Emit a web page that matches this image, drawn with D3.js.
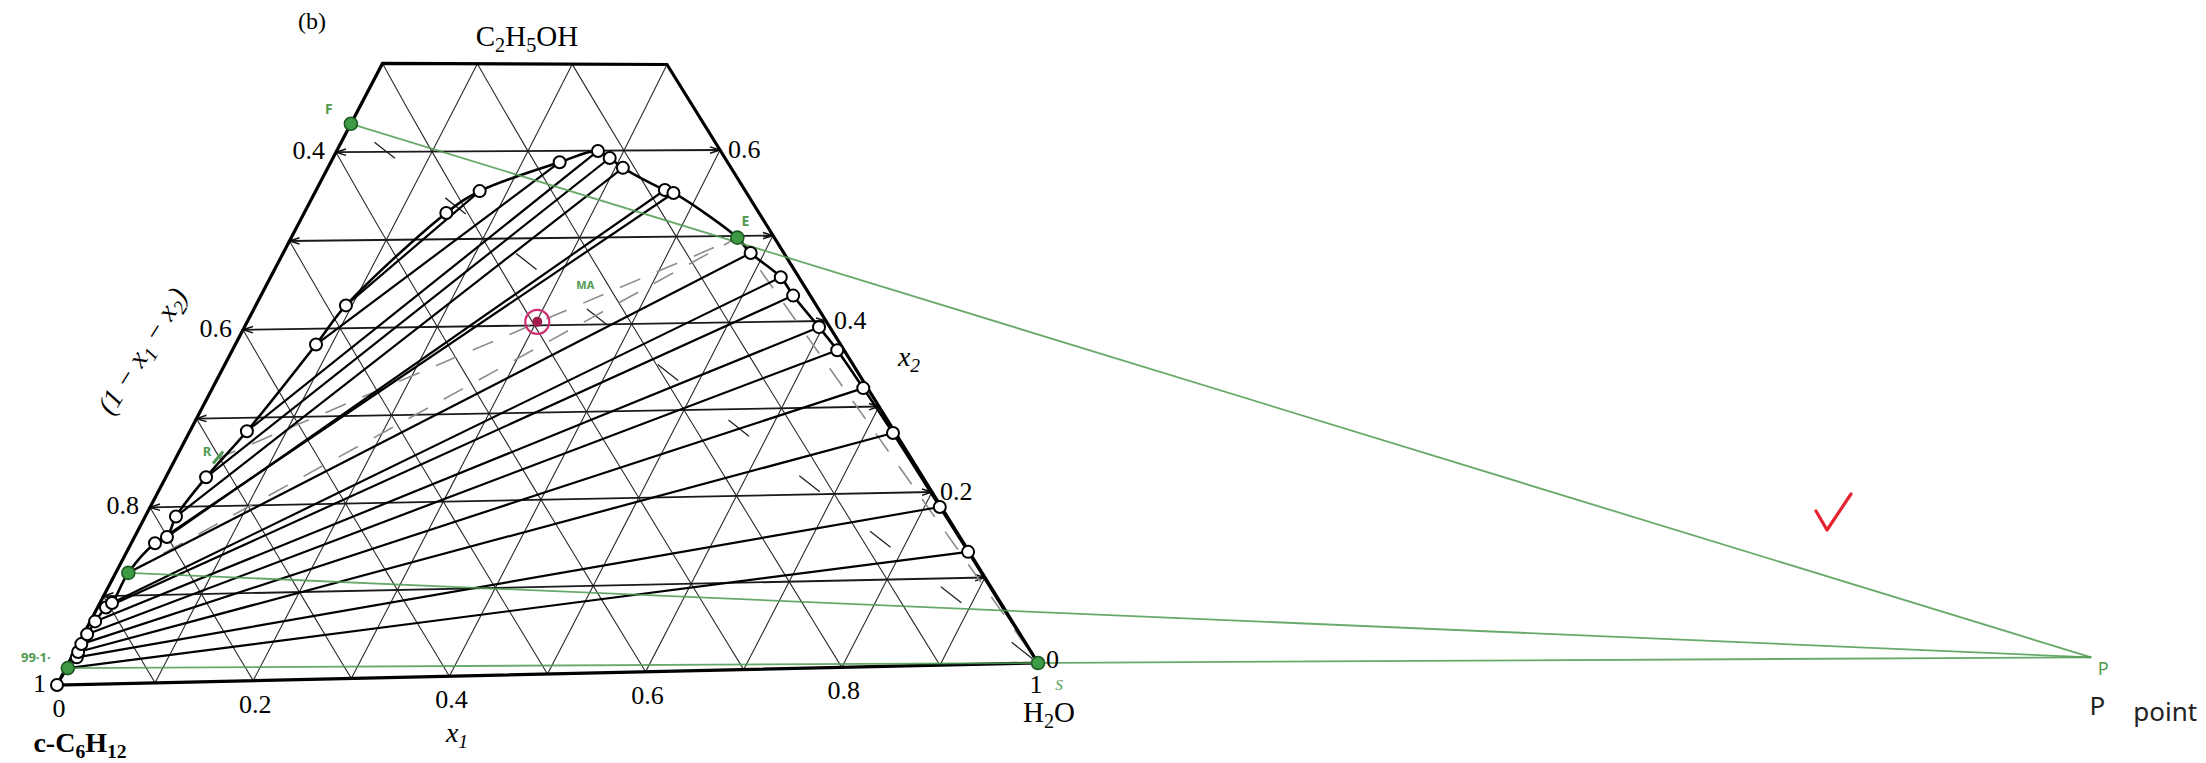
<!DOCTYPE html>
<html>
<head>
<meta charset="utf-8">
<script src="https://cdn.jsdelivr.net/npm/d3@7"></script>
<style>
  html, body { margin: 0; padding: 0; background: #ffffff; }
  svg { display: block; }
</style>
</head>
<body>
<svg id="chart" width="2206" height="763"></svg>
<script>
// ---- Composition data: [x1 (water), x2 (ethanol)], cyclohexane = 1 - x1 - x2 ----

// Binodal (solubility) curve, traced from pure cyclohexane round to pure water
const binodalCurve = [
  [0.000, 0.000], [0.002, 0.019], [0.0055, 0.031], [0.004, 0.037], [0.003, 0.046],
  [0.0037, 0.057], [0.005, 0.0715], [0.0087, 0.087], [0.0125, 0.092], [0.013, 0.126],
  [0.0246, 0.159], [0.0335, 0.166], [0.0318, 0.189], [0.0417, 0.233], [0.059, 0.2846],
  [0.0837, 0.382], [0.0936, 0.426], [0.148, 0.530], [0.171, 0.5546], [0.239, 0.587],
  [0.273, 0.5997], [0.289, 0.5915], [0.308, 0.580], [0.3635, 0.554], [0.374, 0.5505],
  [0.464, 0.498], [0.486, 0.480], [0.530, 0.4515], [0.5525, 0.430], [0.596, 0.393],
  [0.627, 0.366], [0.674, 0.3216], [0.7285, 0.269], [0.816, 0.1825], [0.869, 0.130],
  [0.934, 0.065], [1.000, 0.000]
];

// Measured equilibrium compositions (open circles)
const measuredPoints = [
  [0.000, 0.000], [0.0055, 0.031], [0.004, 0.037], [0.003, 0.046], [0.0037, 0.057],
  [0.005, 0.0715], [0.0087, 0.087], [0.0125, 0.092], [0.0246, 0.159], [0.0335, 0.166],
  [0.0318, 0.189], [0.0417, 0.233], [0.059, 0.2846], [0.0837, 0.382], [0.0936, 0.426],
  [0.148, 0.530], [0.171, 0.5546], [0.239, 0.587], [0.273, 0.5997], [0.289, 0.5915],
  [0.308, 0.580], [0.3635, 0.554], [0.374, 0.5505], [0.486, 0.480], [0.530, 0.4515],
  [0.5525, 0.430], [0.596, 0.393], [0.627, 0.366], [0.674, 0.3216], [0.7285, 0.269],
  [0.816, 0.1825], [0.869, 0.130]
];

// Tie lines: [cyclohexane-rich phase, water-rich phase]
const tieLines = [
  [[0.002, 0.019], [0.869, 0.130]],
  [[0.0055, 0.031], [0.816, 0.1825]],
  [[0.004, 0.037], [0.7285, 0.269]],
  [[0.003, 0.046], [0.674, 0.3216]],
  [[0.0037, 0.057], [0.627, 0.366]],
  [[0.005, 0.0715], [0.596, 0.393]],
  [[0.0087, 0.087], [0.5525, 0.430]],
  [[0.0125, 0.092], [0.530, 0.4515]],
  [[0.013, 0.126], [0.486, 0.480]],
  [[0.0246, 0.159], [0.374, 0.5505]],
  [[0.0335, 0.166], [0.3635, 0.554]],
  [[0.0318, 0.189], [0.308, 0.580]],
  [[0.0417, 0.233], [0.289, 0.5915]],
  [[0.059, 0.2846], [0.273, 0.5997]],
  [[0.0837, 0.382], [0.239, 0.587]],
  [[0.0936, 0.426], [0.171, 0.5546]]
];

// Extraction construction points
const pointF = [0.000, 0.632];   // feed
const pointE = [0.464, 0.498];   // extract
const pointS = [1.000, 0.000];   // solvent (water)
const pointRN = [0.002, 0.019];  // final raffinate
const pointR1 = [0.013, 0.126];
const pointR = [0.0414, 0.253];
const pointM = [0.301, 0.404];   // mixing point
const pointP = [2.083, -0.021];  // difference point

// Axis ticks and labels
const gridSteps = [0.1, 0.2, 0.3, 0.4, 0.5, 0.6, 0.7, 0.8, 0.9];
const topCut = 0.7;
const x1Ticks = [0, 0.2, 0.4, 0.6, 0.8, 1];
const x1TickLabels = ["0", "0.2", "0.4", "0.6", "0.8", "1"];
const x2Ticks = [0, 0.2, 0.4, 0.6];
const leftTickLabels = ["1", "0.8", "0.6", "0.4"];
const rightTickLabels = ["0", "0.2", "0.4", "0.6"];

// ---- Scales: the two slanted edges of the diagram, parametrised by x2 ----
const leftEdgeX = d3.scaleLinear().domain([0, 1]).range([57, 522]);
const leftEdgeY = d3.scaleLinear().domain([0, 1]).range([685, -203]);
const rightEdgeX = d3.scaleLinear().domain([0, 1]).range([1038, 508]);
const rightEdgeY = d3.scaleLinear().domain([0, 1]).range([663, -192]);

function pos(d) {
  const x1 = d[0], x2 = d[1];
  const t = x1 / (1 - x2);
  const lx = leftEdgeX(x2), ly = leftEdgeY(x2);
  const rx = rightEdgeX(x2), ry = rightEdgeY(x2);
  return [lx + t * (rx - lx), ly + t * (ry - ly)];
}

const svg = d3.select("#chart");
const serif = "'Liberation Serif', 'Times New Roman', serif";
const sans = "'Noto Sans', sans-serif";
const green = "#4f9a4f";
const lineGen = d3.line();

// ---- Grid ----
const grid = svg.append("g").attr("fill", "none");

function sampled(fn, from, to) {
  const n = 14, pts = [];
  for (let i = 0; i <= n; i++) pts.push(pos(fn(from + (to - from) * i / n)));
  return pts;
}
// constant water fraction
gridSteps.forEach(a => {
  const top = Math.min(1 - a, topCut);
  grid.append("path").attr("d", lineGen(sampled(x2 => [a, x2], 0, top)))
    .attr("stroke", "#2a2a2a").attr("stroke-width", 1.1);
});
// constant cyclohexane fraction
gridSteps.forEach(c => {
  const top = Math.min(1 - c, topCut);
  grid.append("path").attr("d", lineGen(sampled(x2 => [1 - c - x2, x2], 0, top)))
    .attr("stroke", "#2a2a2a").attr("stroke-width", 1.1);
});
// constant ethanol fraction, with small arrowheads at the edges
gridSteps.filter(v => v < topCut - 1e-9).forEach(b => {
  const a = pos([0, b]), z = pos([1 - b, b]);
  grid.append("path").attr("d", lineGen([a, z]))
    .attr("stroke", "#1a1a1a").attr("stroke-width", 1.8);
  [[a, z], [z, a]].forEach(([tip, other]) => {
    const dx = other[0] - tip[0], dy = other[1] - tip[1];
    const L = Math.hypot(dx, dy), ux = dx / L, uy = dy / L;
    const bx = tip[0] + ux * 10, by = tip[1] + uy * 10;
    grid.append("path")
      .attr("d", lineGen([[bx - uy * 3.2, by + ux * 3.2], tip, [bx + uy * 3.2, by - ux * 3.2]]))
      .attr("stroke", "#111").attr("stroke-width", 1.5);
  });
});

// ---- Outline of the truncated triangle ----
svg.append("path")
  .attr("d", lineGen([pos([0, 0]), pos([0, topCut]), pos([1 - topCut, topCut]), pos([1, 0])]) + "Z")
  .attr("fill", "none").attr("stroke", "#000").attr("stroke-width", 3.2)
  .attr("stroke-linejoin", "miter");

// ---- Construction lines ----
// F to S, long dashes
svg.append("path").attr("d", lineGen([pos(pointF), pos(pointS)]))
  .attr("fill", "none").attr("stroke", "#222").attr("stroke-width", 1.3)
  .attr("stroke-dasharray", "26,64").attr("stroke-dashoffset", -30);
// R through M to E, R1 to E, and E to S
[[pointR, pointE], [pointR1, pointE], [pointE, pointS]].forEach(([a, b]) => {
  svg.append("path").attr("d", lineGen([pos(a), pos(b)]))
    .attr("fill", "none").attr("stroke", "#8c8c8c").attr("stroke-width", 1.6)
    .attr("stroke-dasharray", "22,18");
});

// ---- Tie lines ----
svg.append("g").selectAll("path").data(tieLines).join("path")
  .attr("d", d => lineGen([pos(d[0]), pos(d[1])]))
  .attr("fill", "none").attr("stroke", "#000").attr("stroke-width", 2.2);

// ---- Binodal curve ----
svg.append("path")
  .attr("d", d3.line().curve(d3.curveCatmullRom.alpha(0.5))(binodalCurve.map(pos)))
  .attr("fill", "none").attr("stroke", "#000").attr("stroke-width", 2.6);

// ---- Operating lines to the difference point ----
[pointF, pointR1, pointRN].forEach(p => {
  svg.append("path").attr("d", lineGen([pos(p), pos(pointP)]))
    .attr("fill", "none").attr("stroke", green).attr("stroke-opacity", 0.85)
    .attr("stroke-width", 1.8);
});

// ---- Measured points ----
svg.append("g").selectAll("circle").data(measuredPoints).join("circle")
  .attr("cx", d => pos(d)[0]).attr("cy", d => pos(d)[1]).attr("r", 6)
  .attr("fill", "#fff").attr("stroke", "#000").attr("stroke-width", 2);

// ---- Construction points ----
svg.append("g").selectAll("circle").data([pointF, pointE, pointS, pointRN, pointR1]).join("circle")
  .attr("cx", d => pos(d)[0]).attr("cy", d => pos(d)[1]).attr("r", 6.5)
  .attr("fill", "#3e9a44").attr("stroke", "#1d5a22").attr("stroke-width", 1.6);

// Mixing point
const m = pos(pointM);
svg.append("circle").attr("cx", m[0]).attr("cy", m[1]).attr("r", 12)
  .attr("fill", "none").attr("stroke", "#cf2f72").attr("stroke-width", 2.2);
svg.append("circle").attr("cx", m[0]).attr("cy", m[1]).attr("r", 5)
  .attr("fill", "#a11d4e");

// ---- Text helpers ----
function chem(x, y, parts, opts) {
  const t = svg.append("text").attr("x", x).attr("y", y)
    .attr("font-family", serif).attr("font-size", opts.size)
    .attr("text-anchor", opts.anchor || "middle")
    .attr("font-weight", opts.weight || "normal")
    .attr("font-style", opts.style || "normal")
    .attr("fill", opts.fill || "#000");
  if (opts.rotate) t.attr("transform", `rotate(${opts.rotate},${x},${y})`);
  let shifted = false;
  parts.forEach(([s, sub]) => {
    const sp = t.append("tspan").text(s);
    if (sub && !shifted) { sp.attr("dy", opts.size * 0.22).attr("font-size", opts.size * 0.7); shifted = true; }
    else if (sub) { sp.attr("font-size", opts.size * 0.7); }
    else if (!sub && shifted) { sp.attr("dy", -opts.size * 0.22); shifted = false; }
  });
  return t;
}
function label(x, y, s, opts) {
  return svg.append("text").attr("x", x).attr("y", y).text(s)
    .attr("font-family", opts.family || serif).attr("font-size", opts.size)
    .attr("text-anchor", opts.anchor || "middle")
    .attr("font-weight", opts.weight || "normal")
    .attr("font-style", opts.style || "normal")
    .attr("fill", opts.fill || "#000");
}

// ---- Axis tick labels ----
x1Ticks.forEach((v, i) => {
  if (v === 1) return;
  const p = pos([v, 0]);
  label(p[0] + 2, p[1] + 32, x1TickLabels[i], { size: 26 });
});
{
  const p = pos([1, 0]);
  label(p[0] - 2, p[1] + 30, x1TickLabels[x1TickLabels.length - 1], { size: 26 });
}
x2Ticks.forEach((v, i) => {
  const p = pos([0, v]);
  label(p[0] - 11, p[1] + 7, leftTickLabels[i], { size: 26, anchor: "end" });
  const q = pos([1 - v, v]);
  label(q[0] + 8, q[1] + (v === 0 ? 5 : 8), rightTickLabels[i], { size: 26, anchor: "start" });
});

// ---- Axis titles and component names ----
label(312, 29, "(b)", { size: 24 });
chem(527, 46, [["C"], ["2", 1], ["H"], ["5", 1], ["OH"]], { size: 29 });
chem(80, 752, [["c-C"], ["6", 1], ["H"], ["12", 1]], { size: 28, weight: "bold" });
chem(1049, 722, [["H"], ["2", 1], ["O"]], { size: 29 });
chem(457, 742, [["x"], ["1", 1]], { size: 28, style: "italic" });
chem(909, 366, [["x"], ["2", 1]], { size: 28, style: "italic" });
chem(150, 356, [["(1  −  x"], ["1", 1], ["  −  x"], ["2", 1], [")"]],
  { size: 28, style: "italic", rotate: -58 });

// ---- Annotations ----
const f = pos(pointF), e = pos(pointE), s = pos(pointS), rn = pos(pointRN), r = pos(pointR), pp = pos(pointP);
label(f[0] - 22, f[1] - 10, "F", { size: 14, family: sans, fill: green, weight: "bold" });
label(e[0] + 8, e[1] - 12, "E", { size: 14, family: sans, fill: green, weight: "bold" });
label(s[0] + 21, s[1] + 27, "S", { size: 15, family: serif, fill: green, style: "italic" });
label(rn[0] - 32, rn[1] - 6, "99·1·", { size: 13, family: sans, fill: green, weight: "bold" });
label(r[0] - 8, r[1] - 4, "R", { size: 13, family: sans, fill: green, weight: "bold" });
svg.append("path").attr("d", lineGen([[r[0] - 2, r[1] + 4], [r[0] + 8, r[1] - 8]]))
  .attr("stroke", green).attr("stroke-width", 3);
label(m[0] + 48, m[1] - 33, "MA", { size: 11, family: sans, fill: green, weight: "bold" });

// Difference point label
label(pp[0] + 12, pp[1] + 18, "P", { size: 18, family: sans, fill: green });
label(pp[0] + 6, pp[1] + 58, "P", { size: 26, family: sans, fill: "#222" });
label(pp[0] + 74, pp[1] + 64, "point", { size: 26, family: sans, fill: "#222" });

// Check mark
svg.append("path").attr("d", lineGen([[1816, 511], [1827, 530], [1851, 494]]))
  .attr("fill", "none").attr("stroke", "#e52330").attr("stroke-width", 3.2)
  .attr("stroke-linecap", "round").attr("stroke-linejoin", "round");
</script>
</body>
</html>
